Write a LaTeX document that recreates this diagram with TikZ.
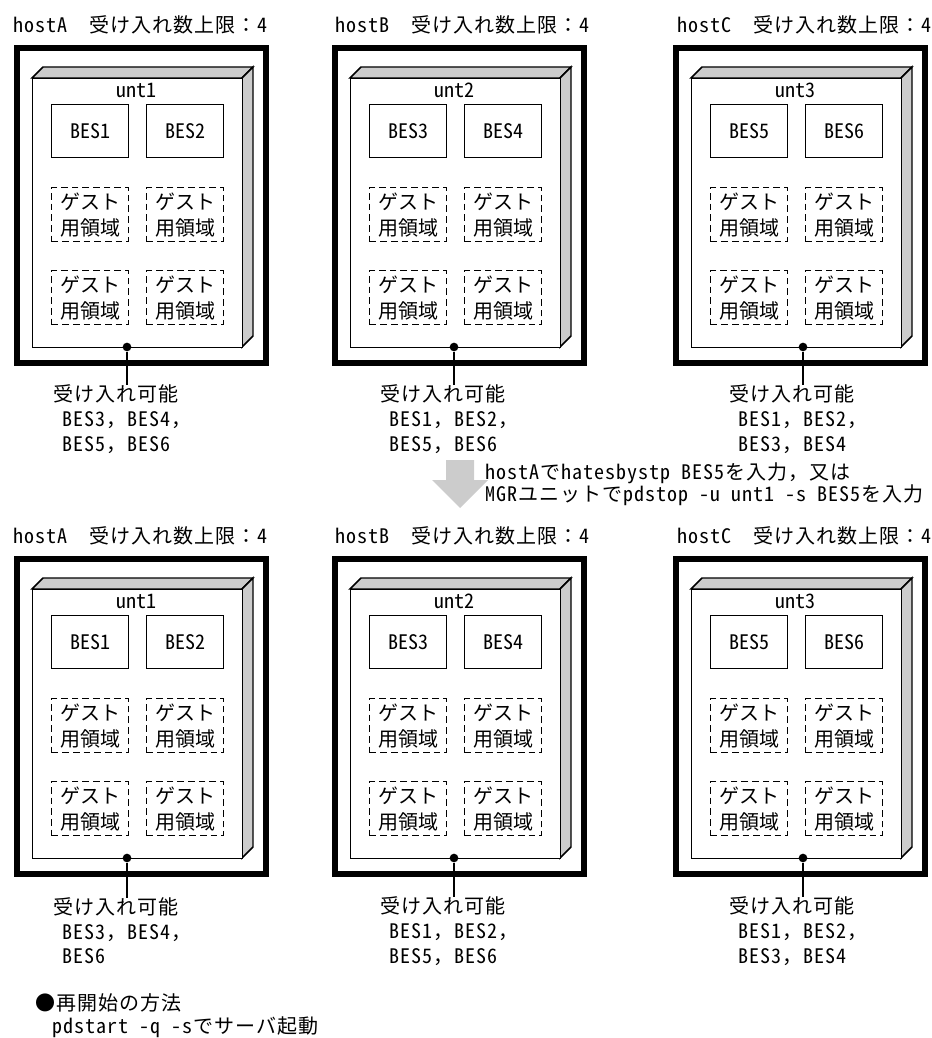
\documentclass[tikz,border=0pt]{standalone}
\usepackage{fontspec}
\setmainfont{Noto Sans Mono CJK JP}
\usetikzlibrary{calc}
\newcommand\freefont[1]{\fontsize{15}{#1}\selectfont\addfontfeature{LetterSpace=5}}
\tikzset{
  hostframe/.style={draw, line width=4.5pt, inner sep=0pt, anchor=north west,
    minimum width=186.75pt, minimum height=236.25pt},
  unitface/.style={draw, fill=white, line width=1.1pt, inner sep=0pt, anchor=north west,
    minimum width=157.5pt, minimum height=201.75pt},
  unitside/.style={draw, fill=gray!40, line width=1.1pt, line join=miter},
  besbox/.style={draw, line width=1.1pt, inner sep=0pt, anchor=north west,
    minimum width=57.75pt, minimum height=39.75pt},
  guestbox/.style={besbox, minimum height=40.5pt, dash pattern=on 5pt off 3pt,
    align=center, font=\fontsize{15}{19.5}\selectfont},
  unitlabel/.style={inner sep=0pt},
  dotnode/.style={circle, fill=black, inner sep=0pt, minimum size=6.5pt},
  lead/.style={line width=1.1pt},
  titletext/.style={anchor=west, inner sep=0pt, font=\freefont{18}},
  captext/.style={anchor=west, inner sep=0pt, align=left, font=\freefont{18.5}},
  notetext/.style={anchor=west, inner sep=0pt, align=left, font=\freefont{16.8}},
}
% #1 id, #2 hx, #3 hy, #4 unit name, #5 left BES, #6 right BES, #7 dot rel x
\newcommand\hostbox[7]{%
  \begin{scope}[shift={(#2,#3)}]
    \node[hostframe] (#1host) at (3,3) {};
    \draw[unitside] (21,36) -- (32,25) -- (242,25) -- (231,36) -- cycle;
    \draw[unitside] (231,36) -- (242,25) -- (242,294) -- (231,305) -- cycle;
    \node[unitface] (#1unit) at (21,36) {};
    \node[unitlabel] (#1ulab) at (125,48) {#4};
    \node[besbox] (#1besL) at (40,62) {#5};
    \node[besbox] (#1besR) at (135,62) {#6};
    \node[guestbox] (#1g1) at (40,145) {ゲスト\\用領域};
    \node[guestbox] (#1g2) at (135,145) {ゲスト\\用領域};
    \node[guestbox] (#1g3) at (40,228) {ゲスト\\用領域};
    \node[guestbox] (#1g4) at (135,228) {ゲスト\\用領域};
    \node[dotnode] (#1dot) at (#7,305) {};
  \end{scope}}

\begin{document}
\begin{tikzpicture}[x=0.75pt, y=-0.75pt, font=\fontsize{15}{18.5}\selectfont]
\useasboundingbox (0,0) rectangle (931,1038);

% ---------- top row ----------
\node[titletext] (tA1) at (13,25) {hostA　受け入れ数上限：4};
\node[titletext] (tB1) at (335,25) {hostB　受け入れ数上限：4};
\node[titletext] (tC1) at (677,25) {hostC　受け入れ数上限：4};
\hostbox{A1}{11}{42}{unt1}{BES1}{BES2}{116}
\hostbox{B1}{329}{42}{unt2}{BES3}{BES4}{125}
\hostbox{C1}{670}{42}{unt3}{BES5}{BES6}{133}
\node[captext] (cA1) at (53,419) {受け入れ可能\\\hspace{6.75pt}BES3，BES4，\\\hspace{6.75pt}BES5，BES6};
\node[captext] (cB1) at (380,419) {受け入れ可能\\\hspace{6.75pt}BES1，BES2，\\\hspace{6.75pt}BES5，BES6};
\node[captext] (cC1) at (729,419) {受け入れ可能\\\hspace{6.75pt}BES1，BES2，\\\hspace{6.75pt}BES3，BES4};
\draw[lead] (A1dot) -- (A1dot |- cA1.north);
\draw[lead] (B1dot) -- (B1dot |- cB1.north);
\draw[lead] (C1dot) -- (C1dot |- cC1.north);

% ---------- transition arrow ----------
\fill[gray!40] (446,460) -- (474,460) -- (474,480) -- (488,480) -- (460,508) -- (432,480) -- (446,480) -- cycle;
\node[notetext] (cmd) at (485,484) {hostAでhatesbystp BES5を入力，又は\\MGRユニットでpdstop -u unt1 -s BES5を入力};

% ---------- bottom row ----------
\node[titletext] (tA2) at (13,536) {hostA　受け入れ数上限：4};
\node[titletext] (tB2) at (335,536) {hostB　受け入れ数上限：4};
\node[titletext] (tC2) at (677,536) {hostC　受け入れ数上限：4};
\hostbox{A2}{11}{553}{unt1}{BES1}{BES2}{116}
\hostbox{B2}{329}{553}{unt2}{BES3}{BES4}{125}
\hostbox{C2}{670}{553}{unt3}{BES5}{BES6}{133}
\node[captext] (cA2) at (53,931) {受け入れ可能\\\hspace{6.75pt}BES3，BES4，\\\hspace{6.75pt}BES6};
\node[captext] (cB2) at (380,931) {受け入れ可能\\\hspace{6.75pt}BES1，BES2，\\\hspace{6.75pt}BES5，BES6};
\node[captext] (cC2) at (729,931) {受け入れ可能\\\hspace{6.75pt}BES1，BES2，\\\hspace{6.75pt}BES3，BES4};
\draw[lead] (A2dot) -- (A2dot |- cA2.north);
\draw[lead] (B2dot) -- (B2dot |- cB2.north);
\draw[lead] (C2dot) -- (C2dot |- cC2.north);

% ---------- restart note ----------
\node[notetext, font=\freefont{17.25}] (note) at (35,1016) {●再開始の方法\\\hspace{12.75pt}pdstart -q -sでサーバ起動};
\end{tikzpicture}
\end{document}
